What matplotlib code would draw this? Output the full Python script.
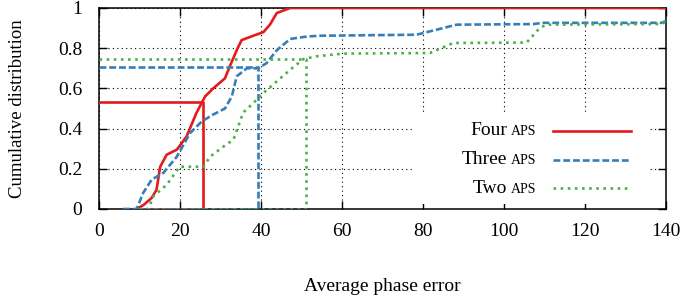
import matplotlib
matplotlib.use("Agg")
import matplotlib.pyplot as plt
from matplotlib.lines import Line2D
from matplotlib.offsetbox import TextArea, HPacker, VPacker, DrawingArea, AnchoredOffsetbox

plt.rcParams['font.family'] = ['Liberation Serif', 'DejaVu Serif']

# ---- data ----
four_x = [9.3, 11, 13.0, 14.2, 15.1, 16.7, 19.2, 21.6, 24.1, 26.2, 28.2, 31.1, 32.3,
          34.0, 35.2, 38.1, 40.6, 42.2, 43.9, 47.2, 140]
four_y = [0, 0.02, 0.055, 0.096, 0.21, 0.27, 0.295, 0.36, 0.48, 0.56, 0.60, 0.65, 0.71,
          0.79, 0.84, 0.862, 0.88, 0.917, 0.975, 1.0, 1.0]

three_x = [6, 9.3, 10.9, 13.0, 15.9, 19.2, 22.5, 25.4, 28.2, 31.1, 32.8, 34.0, 36.5,
           39.3, 41.4, 43.9, 47.2, 51.3, 54.6, 78.4, 88.3, 107.2, 109.7, 138.9, 140]
three_y = [0, 0, 0.08, 0.146, 0.18, 0.26, 0.378, 0.436, 0.47, 0.50, 0.56, 0.66, 0.70,
           0.70, 0.726, 0.79, 0.846, 0.858, 0.862, 0.867, 0.917, 0.92, 0.926, 0.926, 0.935]

two_x = [10, 12.2, 13.4, 16.7, 19.9, 25.8, 27.4, 30.7, 33.2, 35.6, 38.1, 40.6, 43.9,
         47.2, 50.5, 53.8, 60.3, 81.7, 87.5, 105.6, 108.8, 110.5, 138.6, 140]
two_y = [0, 0, 0.063, 0.12, 0.21, 0.21, 0.26, 0.31, 0.345, 0.48, 0.527, 0.577, 0.635,
         0.693, 0.746, 0.76, 0.773, 0.776, 0.826, 0.828, 0.90, 0.917, 0.92, 0.93]

# marker paths: (0, p) -> (x, p) -> (x, 0) -> (start, 0)
four_mark_x = [0, 25.7, 25.7, 11]
four_mark_y = [0.532, 0.532, 0, 0]
three_mark_x = [0, 39.3, 39.3, 6]
three_mark_y = [0.705, 0.705, 0, 0]
two_mark_x = [0, 51.0, 51.0, 10]
two_mark_y = [0.748, 0.748, 0, 0]

labels = ["Four", "Three", "Two"]
colors = ["#e41a1c", "#377eb8", "#4daf4a"]

x_ticks = [0, 20, 40, 60, 80, 100, 120, 140]
y_ticks = [0, 0.2, 0.4, 0.6, 0.8, 1.0]
y_ticklabels = ["0", "0.2", "0.4", "0.6", "0.8", "1"]

# ---- figure ----
fig = plt.figure(figsize=(6.83, 2.96), dpi=100)
ax = fig.add_axes([0.145, 0.294, 0.830, 0.679])

styles = [dict(linestyle="-"),
          dict(linestyle=(0, (2.6, 1.1))),
          dict(linestyle=(0, (1.0, 1.7)))]
series = [(four_x, four_y, four_mark_x, four_mark_y),
          (three_x, three_y, three_mark_x, three_mark_y),
          (two_x, two_y, two_mark_x, two_mark_y)]

for (cx, cy, mx, my), c, st in zip(series, colors, styles):
    ax.plot(cx, cy, color=c, lw=1.9, zorder=3, **st)
    ax.plot(mx, my, color=c, lw=1.9, zorder=3, **st)

ax.set_xlim(0, 140)
ax.set_ylim(0, 1)
ax.set_xticks(x_ticks)
ax.set_yticks(y_ticks)
ax.set_yticklabels(y_ticklabels)
ax.tick_params(direction="in", top=True, right=True, length=5.5, width=1.0,
               labelsize=14)
ax.tick_params(axis="x", pad=10)
ax.tick_params(axis="y", pad=12)
for s in ax.spines.values():
    s.set_linewidth(1.1)
ax.grid(True, color="black", linestyle=(0, (1, 3)), linewidth=0.8)

ax.set_xlabel("Average phase error", fontsize=14)
ax.set_ylabel("Cumulative distribution", fontsize=13.5)
ax.xaxis.set_label_coords(0.5, -0.345)
ax.yaxis.set_label_coords(-0.128, 0.5)

# ---- legend with small-caps "APs" ----
rows = []
for lab, c, st in zip(labels, colors, styles):
    words = HPacker(children=[TextArea(lab, textprops=dict(size=14)),
                              TextArea("APS", textprops=dict(size=10))],
                    align="baseline", pad=0, sep=3)
    da = DrawingArea(56, 10, 0, 0)
    da.add_artist(Line2D([0, 56], [5, 5], color=c, lw=1.9, **st))
    rows.append(HPacker(children=[words, da], align="center", pad=0, sep=12))
block = VPacker(children=rows, align="right", pad=0, sep=8.5)
left_gap = DrawingArea(30, 1, 0, 0)
right_gap = DrawingArea(7, 1, 0, 0)
box = AnchoredOffsetbox(loc="lower right",
                        child=HPacker(children=[left_gap, block, right_gap], pad=0, sep=0),
                        pad=0.5, borderpad=0, frameon=True,
                        bbox_to_anchor=(0.968, 0.026), bbox_transform=ax.transAxes)
box.patch.set_facecolor("white")
box.patch.set_edgecolor("none")
box.set_zorder(2)
ax.add_artist(box)

fig.savefig("out.png", dpi=100)
